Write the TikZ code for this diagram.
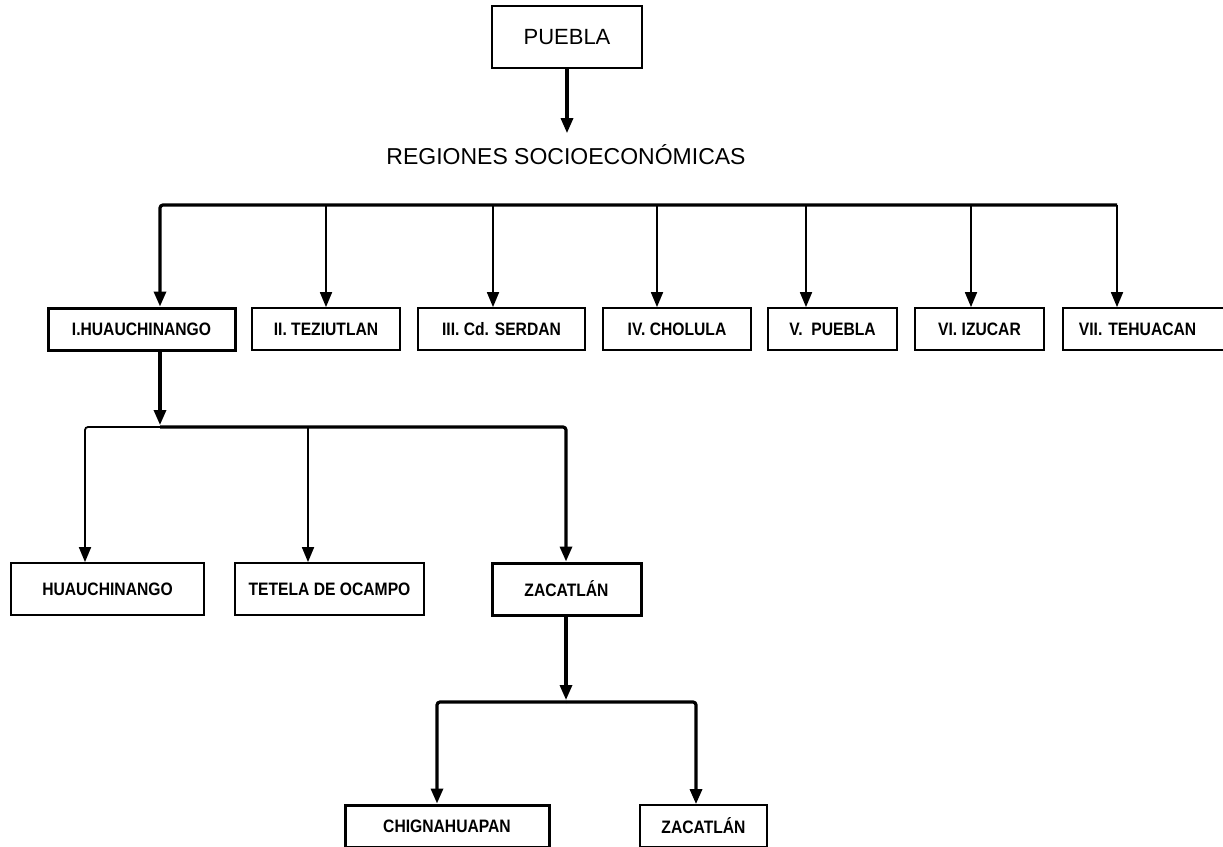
\documentclass[tikz,border=0pt]{standalone}
\usepackage{fontspec}
\setmainfont{Liberation Sans}
\newfontfamily\cajafont[FakeStretch=0.87]{Liberation Sans}
\usetikzlibrary{arrows.meta}
\begin{document}
\begin{tikzpicture}[x=1pt, y=-1pt, line width=1.8pt,
  caja/.style={draw, line width=1.8pt, minimum height=42, inner sep=0pt, font=\cajafont\bfseries\fontsize{18}{20}\selectfont},
  gruesa/.style={line width=3.2pt},
  flecha/.style={-{Triangle[length=15pt,width=12pt]}}]
  \useasboundingbox (0,0) rectangle (1223,846);
  % estado y regiones
  \node[draw, line width=1.8pt, minimum width=150, minimum height=62, font=\fontsize{22}{26}\selectfont] (edo) at (567,37) {PUEBLA};
  \node[font=\fontsize{23}{27}\selectfont, inner sep=0pt, anchor=base] (reg) at (566,164) {REGIONES SOCIOECON\'OMICAS};
  \draw[gruesa, flecha, shorten >=10pt] (edo.south) -- (edo.south |- reg.north);
  \node[caja, line width=3pt, minimum width=187] (r1) at (141.5,329) {I.HUAUCHINANGO};
  \foreach \n/\x/\w/\t in {r2/326/148/{II. TEZIUTLAN}, r3/501.5/167/{III. Cd. SERDAN},
      r4/677/148/{IV. CHOLULA}, r5/832.5/129/{V.~~PUEBLA}, r6/979.5/129/{VI. IZUCAR}}
    \node[caja, minimum width=\w] (\n) at (\x,329) {\t};
  \node[caja, anchor=west, text width=145, align=left, inner xsep=16] (r7) at (1062,329) {VII. TEHUACAN};
  \draw[gruesa, flecha, rounded corners=3] (1117,205) -- (160,205) -- (160,0 |- r1.north);
  \foreach \n/\x in {r2/326, r3/493, r4/657, r5/806, r6/971, r7/1117}
    \draw[flecha] (\x,205) -- (\x,0 |- \n.north);
  % municipios de la region I
  \node[caja, minimum width=193, minimum height=52] (h1) at (107.5,589) {HUAUCHINANGO};
  \node[caja, minimum width=189, minimum height=52] (h2) at (329.5,589) {TETELA DE OCAMPO};
  \node[caja, line width=3pt, minimum width=149, minimum height=52] (h3) at (566.5,589) {ZACATL\'AN};
  \draw[gruesa, flecha] (160,0 |- r1.south) -- (160,425);
  \draw[flecha, rounded corners=3] (160,427) -- (85,427) -- (85,0 |- h1.north);
  \draw[flecha] (308,427) -- (308,0 |- h2.north);
  \draw[gruesa, flecha, rounded corners=3] (160,427) -- (566,427) -- (566,0 |- h3.north);
  % Zacatlan
  \node[caja, line width=3pt, minimum width=204] (z1) at (447,826) {CHIGNAHUAPAN};
  \node[caja, minimum width=127] (z2) at (703.5,826) {ZACATL\'AN};
  \draw[gruesa, flecha] (566,0 |- h3.south) -- (566,700);
  \draw[gruesa, flecha, rounded corners=3] (566,702) -- (437,702) -- (437,0 |- z1.north);
  \draw[gruesa, flecha, rounded corners=3] (566,702) -- (696,702) -- (696,0 |- z2.north);
\end{tikzpicture}
\end{document}
